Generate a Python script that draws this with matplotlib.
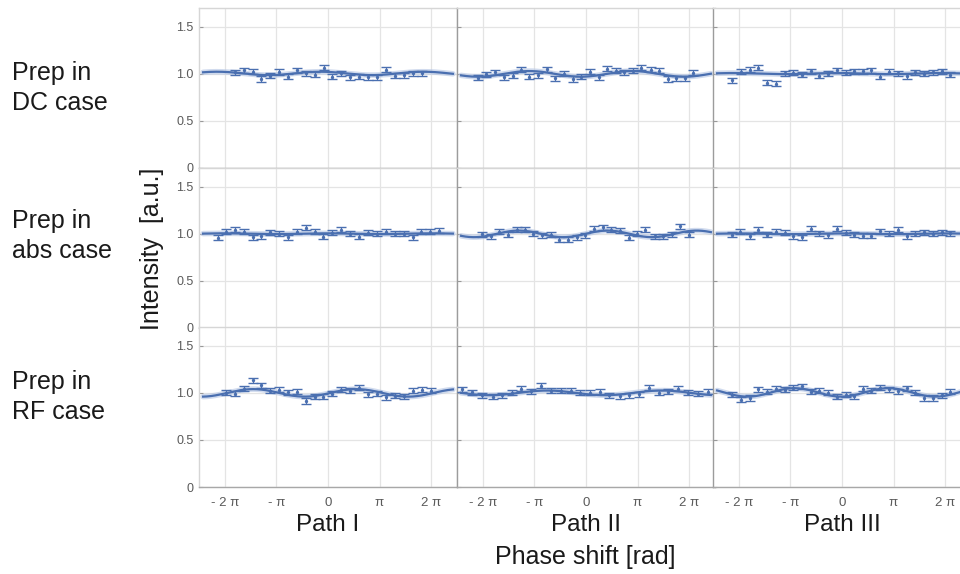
import numpy as np
import matplotlib
matplotlib.use("Agg")
import matplotlib.pyplot as plt

plt.rcParams['font.family'] = ['Liberation Sans', 'DejaVu Sans']

# ---------------- data (x in units of pi) ----------------
row_labels = ["Prep in\nDC case", "Prep in\nabs case", "Prep in\nRF case"]
col_labels = ["Path I", "Path II", "Path III"]
xtick_pos = [-2, -1, 0, 1, 2]
xtick_labels = ["- 2 \u03c0", "- \u03c0", "0", "\u03c0", "2 \u03c0"]
ytick_pos = [0, 0.5, 1.0, 1.5]
ytick_labels = ["0", "0.5", "1.0", "1.5"]

# row 1 : DC case
x_dc_1 = [-1.81, -1.63, -1.45, -1.29, -1.13, -0.95, -0.77, -0.61, -0.43, -0.26, -0.08,
          0.08, 0.26, 0.43, 0.60, 0.77, 0.95, 1.13, 1.30, 1.47, 1.65, 1.82]
y_dc_1 = [1.016, 1.036, 1.025, 0.946, 0.982, 1.020, 0.968, 1.036, 1.007, 0.993, 1.064,
          0.968, 1.007, 0.964, 0.968, 0.964, 0.964, 1.043, 0.979, 0.986, 1.007, 1.007]
x_dc_2 = [-2.10, -1.94, -1.76, -1.59, -1.42, -1.26, -1.10, -0.93, -0.76, -0.60, -0.43, -0.26, -0.09,
          0.07, 0.25, 0.41, 0.58, 0.74, 0.91, 1.07, 1.25, 1.41, 1.59, 1.75, 1.92, 2.07]
y_dc_2 = [0.957, 0.996, 1.018, 0.964, 0.982, 1.043, 0.968, 0.986, 1.050, 0.954, 1.000, 0.946, 0.968,
          1.025, 0.964, 1.054, 1.032, 1.018, 1.032, 1.064, 1.043, 1.032, 0.946, 0.954, 0.954, 1.014]
x_dc_3 = [-2.14, -1.96, -1.79, -1.62, -1.45, -1.28, -1.10, -0.94, -0.77, -0.61, -0.44, -0.28, -0.10,
          0.07, 0.24, 0.40, 0.57, 0.74, 0.92, 1.08, 1.25, 1.42, 1.59, 1.76, 1.93, 2.09]
y_dc_3 = [0.932, 1.021, 1.046, 1.064, 0.904, 0.893, 1.007, 1.014, 0.993, 1.029, 0.982, 1.000, 1.036,
          1.011, 1.029, 1.029, 1.036, 0.968, 1.025, 1.007, 0.975, 1.018, 1.000, 1.018, 1.029, 0.993]

# row 2 : abs case
x_abs_1 = [-2.14, -1.98, -1.80, -1.63, -1.45, -1.29, -1.13, -0.95, -0.77, -0.61, -0.43, -0.26, -0.10,
           0.08, 0.26, 0.43, 0.60, 0.77, 0.95, 1.13, 1.29, 1.47, 1.65, 1.81, 1.98, 2.15]
y_abs_1 = [0.957, 1.021, 1.046, 1.021, 0.964, 0.975, 1.018, 1.004, 0.964, 1.021, 1.064, 1.025, 0.971,
           1.014, 1.043, 1.004, 0.968, 1.011, 1.004, 1.021, 1.000, 1.000, 0.964, 1.021, 1.021, 1.032]
x_abs_2 = [-2.01, -1.84, -1.68, -1.52, -1.34, -1.18, -1.02, -0.85, -0.68, -0.52, -0.35, -0.18, -0.01,
           0.16, 0.32, 0.49, 0.65, 0.83, 0.99, 1.15, 1.33, 1.50, 1.67, 1.83, 1.99]
y_abs_2 = [0.996, 0.975, 1.025, 0.989, 1.046, 1.046, 1.004, 0.986, 0.989, 0.939, 0.939, 0.964, 0.986,
           1.057, 1.071, 1.043, 1.032, 0.957, 1.000, 1.043, 0.975, 0.975, 0.996, 1.082, 0.993]
x_abs_3 = [-2.14, -1.97, -1.79, -1.62, -1.45, -1.28, -1.10, -0.94, -0.77, -0.61, -0.44, -0.28, -0.10,
           0.07, 0.24, 0.40, 0.57, 0.74, 0.92, 1.08, 1.25, 1.42, 1.59, 1.76, 1.93, 2.09]
y_abs_3 = [0.993, 1.025, 0.975, 1.046, 0.989, 1.025, 1.014, 0.975, 0.964, 1.057, 1.007, 0.986, 1.057,
           1.014, 0.993, 0.982, 0.982, 1.029, 1.000, 1.043, 0.975, 1.004, 1.018, 1.004, 1.018, 1.007]

# row 3 : RF case
x_rf_1 = [-1.98, -1.81, -1.63, -1.45, -1.29, -1.13, -0.95, -0.77, -0.61, -0.43, -0.26, -0.10,
          0.08, 0.26, 0.43, 0.60, 0.77, 0.95, 1.13, 1.29, 1.47, 1.65, 1.82, 2.00]
y_rf_1 = [1.000, 0.989, 1.046, 1.132, 1.079, 1.021, 1.032, 1.007, 1.011, 0.914, 0.957, 0.961,
          0.989, 1.032, 1.021, 1.054, 0.986, 0.993, 0.954, 0.968, 0.964, 1.025, 1.032, 1.021]
x_rf_2 = [-2.41, -2.20, -2.01, -1.81, -1.63, -1.44, -1.26, -1.06, -0.87, -0.68, -0.49, -0.30, -0.11,
          0.08, 0.27, 0.45, 0.65, 0.83, 1.02, 1.22, 1.41, 1.59, 1.79, 1.98, 2.18, 2.36]
y_rf_2 = [1.036, 1.007, 0.975, 0.957, 0.975, 1.000, 1.046, 1.018, 1.075, 1.021, 1.021, 1.021, 1.000,
          1.004, 1.011, 0.975, 0.964, 0.975, 0.986, 1.057, 1.004, 1.011, 1.046, 1.004, 0.989, 1.014]
x_rf_3 = [-2.14, -1.96, -1.79, -1.62, -1.45, -1.28, -1.10, -0.94, -0.77, -0.61, -0.44, -0.28, -0.10,
          0.07, 0.24, 0.40, 0.57, 0.74, 0.92, 1.08, 1.25, 1.42, 1.59, 1.76, 1.93, 2.09]
y_rf_3 = [0.982, 0.929, 0.946, 1.036, 1.011, 1.046, 1.032, 1.057, 1.071, 1.014, 1.021, 1.000, 0.957,
          0.979, 0.964, 1.043, 1.021, 1.057, 1.036, 1.018, 1.050, 1.000, 0.946, 0.946, 0.975, 1.014]

err_half = 0.027

# fitted curves: offset, amplitude, frequency, position of maximum (units of pi)
fit_offset = [[1.005, 1.000, 1.003], [1.002, 1.000, 1.001], [1.000, 1.000, 1.005]]
fit_amp    = [[0.018, 0.030, 0.006], [0.004, 0.035, 0.004], [0.040, 0.025, 0.045]]
fit_freq   = [[1.00, 1.00, 1.00], [1.00, 1.16, 1.00], [1.00, 0.90, 1.10]]
fit_peak   = [[-0.15, 0.90, -0.10], [0.00, 0.42, 0.00], [0.55, -0.75, -0.92]]

xs = [[x_dc_1, x_dc_2, x_dc_3], [x_abs_1, x_abs_2, x_abs_3], [x_rf_1, x_rf_2, x_rf_3]]
ys = [[y_dc_1, y_dc_2, y_dc_3], [y_abs_1, y_abs_2, y_abs_3], [y_rf_1, y_rf_2, y_rf_3]]

# ---------------- figure ----------------
W, H = 960, 574
fig = plt.figure(figsize=(W / 100, H / 100), dpi=100)

col_left = [199, 457, 713]
col_w = 258
row_bottom = [168, 328, 487]
row_h = 160

blue = '#4a6fb0'
light = '#e4e4e4'
frame_light = '#d6d6d6'
frame_dark = '#9c9c9c'
tick_col = '#5a5a5a'
text_col = '#1a1a1a'

for r in range(3):
    for c in range(3):
        l = col_left[c] / W
        b = 1 - row_bottom[r] / H
        ax = fig.add_axes([l, b, col_w / W, row_h / H])
        ax.set_xlim(-2.5 * np.pi, 2.5 * np.pi)
        ax.set_ylim(0, 1.7)
        ax.set_xticks([p * np.pi for p in xtick_pos])
        ax.set_yticks(ytick_pos)
        ax.grid(True, color=light, lw=0.9)
        ax.set_axisbelow(True)
        for s in ['top', 'right']:
            ax.spines[s].set_color(frame_light)
        ax.spines['left'].set_color(frame_light if c == 0 else frame_dark)
        ax.spines['bottom'].set_color('#a8a8a8')
        for s in ax.spines.values():
            s.set_linewidth(1.0)
        ax.tick_params(axis='y', direction='in', length=3, width=0.8, color='#999999',
                       labelsize=9, labelcolor=tick_col, pad=4)
        ax.tick_params(axis='x', direction='in', length=0,
                       labelsize=9.5, labelcolor=tick_col, pad=7)
        if c == 0:
            ax.set_yticklabels(ytick_labels)
        else:
            ax.tick_params(labelleft=False)
        if r == 2:
            ax.set_xticklabels(xtick_labels)
        else:
            ax.tick_params(labelbottom=False)

        # fit curve
        xf = np.linspace(-2.42 * np.pi, 2.42 * np.pi, 400)
        yf = fit_offset[r][c] + fit_amp[r][c] * np.cos(fit_freq[r][c] * (xf - fit_peak[r][c] * np.pi))
        ax.plot(xf, yf, color='#b3c4e3', lw=4.0, alpha=0.6, solid_capstyle='round', zorder=2)
        ax.plot(xf, yf, color=blue, lw=1.6, zorder=3)

        xd = np.array(xs[r][c]) * np.pi
        yd = np.array(ys[r][c])
        ax.errorbar(xd, yd, yerr=err_half, fmt='o', ms=1.4, color=blue, ecolor=blue,
                    elinewidth=0.9, capsize=3.4, capthick=1.0, zorder=4)

# row labels
row_text_y = [88, 236, 397]
for r in range(3):
    fig.text(12 / W, 1 - row_text_y[r] / H, row_labels[r], fontsize=18, color=text_col,
             ha='left', va='center', linespacing=1.3)

# column labels
for c in range(3):
    fig.text((col_left[c] + col_w / 2) / W, 1 - 525 / H, col_labels[c], fontsize=17.5,
             color=text_col, ha='center', va='center')

fig.text(585 / W, 1 - 557 / H, "Phase shift [rad]", fontsize=18, color=text_col,
         ha='center', va='center')
fig.text(152 / W, 1 - 249 / H, "Intensity  [a.u.]", fontsize=18, color=text_col,
         ha='center', va='center', rotation=90)

fig.savefig("out.png", dpi=100)
